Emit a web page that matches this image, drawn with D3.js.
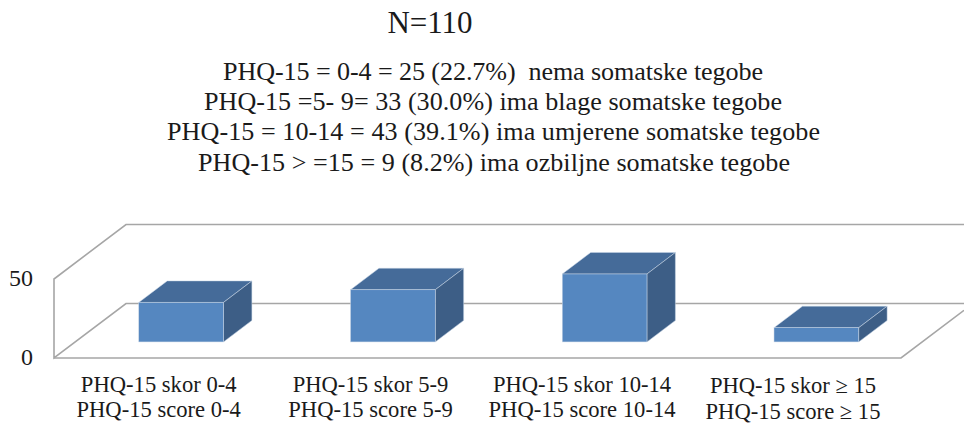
<!DOCTYPE html>
<html><head><meta charset="utf-8">
<script src="https://cdn.jsdelivr.net/npm/d3@7/dist/d3.min.js"></script>
<style>html,body{margin:0;padding:0;background:#fff}svg{display:block}text{font-family:"Liberation Serif",serif;fill:#1a1a1a}</style>
</head><body><svg id="c" width="964" height="423"></svg>
<script>
const categories = [["PHQ-15 skor 0-4","PHQ-15 score 0-4"],["PHQ-15 skor 5-9","PHQ-15 score 5-9"],["PHQ-15 skor 10-14","PHQ-15 score 10-14"],["PHQ-15 skor \u2265 15","PHQ-15 score \u2265 15"]];
const values = [25,33,43,9];
const yTicks = [0,50];
const titleText = "N=110";
const summaryLines = ["PHQ-15 = 0-4 = 25 (22.7%)  nema somatske tegobe","PHQ-15 =5- 9= 33 (30.0%) ima blage somatske tegobe","PHQ-15 = 10-14 = 43 (39.1%) ima umjerene somatske tegobe","PHQ-15 > =15 = 9 (8.2%) ima ozbiljne somatske tegobe"];

const svg = d3.select("#c");
const W = 964, x0 = 54, x1 = 901, floorY = 358;
const dx = 72, dy = 54.5;
const barFront = 0.295, barDepth = 0.395;
const x = d3.scaleBand().domain(d3.range(values.length)).range([x0,x1]).paddingInner(0.6).paddingOuter(0.3);
const y = d3.scaleLinear().domain([0,50]).range([floorY,279]);
const P = p => p.map(a=>a.join(",")).join(" ");
const grid = "#a6a6a6";
const wall = svg.append("g").attr("fill","none").attr("stroke",grid).attr("stroke-width",1.6);
const t = (W-x1)/dx;
wall.append("polyline").attr("points",P([[W,y(50)-dy],[x0+dx,y(50)-dy],[x0,y(50)],[x0,y(0)],[x0+dx,y(0)-dy],[W,y(0)-dy]]));
wall.append("polyline").attr("points",P([[x0,y(0)],[x1,y(0)],[W,y(0)-dy*t]]));

const g = svg.append("g").selectAll("g").data(values).join("g");
const fx = i => x(i)+dx*barFront, base = y(0)-dy*barFront;
const h = v => y(0)-y(v);
const ddx = dx*barDepth, ddy = dy*barDepth;
g.append("polygon").attr("fill","#456b99").attr("stroke","#c9d6e6").attr("stroke-width",.5)
 .attr("points",(d,i)=>{const l=fx(i),r=l+x.bandwidth(),T=base-h(d);return P([[l,T],[r,T],[r+ddx,T-ddy],[l+ddx,T-ddy]]);});
g.append("polygon").attr("fill","#3d5e86").attr("stroke","#c9d6e6").attr("stroke-width",.5)
 .attr("points",(d,i)=>{const r=fx(i)+x.bandwidth(),T=base-h(d);return P([[r,T],[r+ddx,T-ddy],[r+ddx,base-ddy],[r,base]]);});
g.append("rect").attr("fill","#5587c0").attr("stroke","#c9d6e6").attr("stroke-width",.5)
 .attr("x",(d,i)=>fx(i)).attr("width",x.bandwidth()).attr("y",d=>base-h(d)).attr("height",h);

svg.append("g").selectAll("text").data(yTicks).join("text")
 .attr("x",33).attr("y",d=>y(d)+7).attr("text-anchor","end").attr("font-size",24).text(d=>d);

const labelCx = [158.7,370.5,582,793];
const lab = svg.append("g").selectAll("text").data(categories).join("text").attr("text-anchor","middle").attr("font-size",22.6);
lab.append("tspan").attr("x",(d,i)=>labelCx[i]).attr("y",(d,i)=>i==3?393:391.5).text(d=>d[0]);
lab.append("tspan").attr("x",(d,i)=>labelCx[i]).attr("y",(d,i)=>i==3?419:417).text(d=>d[1]);

svg.append("text").attr("x",430).attr("y",33).attr("text-anchor","middle").attr("font-size",31).text(titleText);
const sumCx=[493,493,493.5,494], sumY=[80,110,140,170.5], sumLen=[540,578,653,592];
svg.append("g").selectAll("text").data(summaryLines).join("text").attr("xml:space","preserve").style("white-space","pre")
 .attr("x",(d,i)=>sumCx[i]).attr("y",(d,i)=>sumY[i]).attr("text-anchor","middle").attr("font-size",26.1)
 .attr("textLength",(d,i)=>sumLen[i]).attr("lengthAdjust","spacing").text(d=>d);
</script></body></html>
